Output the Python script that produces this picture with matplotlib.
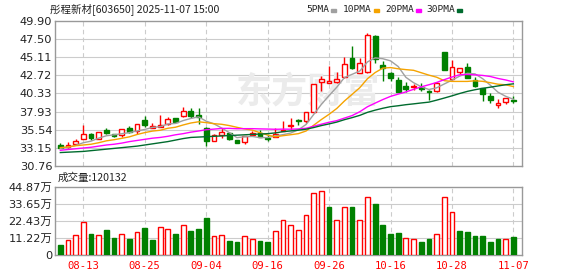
import matplotlib
matplotlib.use("Agg")
import matplotlib.pyplot as plt
import numpy as np

fechas = ["08-08", "08-11", "08-12", "08-13", "08-14", "08-15", "08-18", "08-19", "08-20", "08-21",
          "08-22", "08-25", "08-26", "08-27", "08-28", "08-29", "09-01", "09-02", "09-03", "09-04",
          "09-05", "09-08", "09-09", "09-10", "09-11", "09-12", "09-15", "09-16", "09-17", "09-18",
          "09-19", "09-22", "09-23", "09-24", "09-25", "09-26", "09-29", "09-30", "10-09", "10-10",
          "10-13", "10-14", "10-15", "10-16", "10-17", "10-20", "10-21", "10-22", "10-23", "10-24",
          "10-27", "10-28", "10-29", "10-30", "10-31", "11-03", "11-04", "11-05", "11-06", "11-07"]

apertura = [33.50, 33.23, 33.67, 34.33, 34.91, 34.33, 35.48, 34.99, 34.77, 35.70,
            35.35, 36.80, 35.79, 35.92, 36.23, 37.03, 37.38, 38.00, 37.47, 35.70,
            34.07, 34.86, 35.04, 34.16, 33.89, 34.82, 35.04, 34.47, 34.51, 35.39,
            36.01, 36.76, 36.63, 37.82, 41.79, 41.74, 41.87, 42.45, 45.05, 43.07,
            43.11, 47.92, 44.08, 42.98, 42.10, 41.30, 41.13, 41.13, 40.64, 40.64,
            45.76, 42.23, 43.20, 43.77, 42.10, 41.04, 39.98, 38.83, 39.14, 39.45]
maximo = [33.72, 33.94, 34.25, 36.14, 35.04, 35.22, 35.70, 35.00, 35.66, 36.01,
          36.25, 37.38, 36.36, 37.47, 37.20, 37.10, 38.48, 38.35, 38.35, 35.83,
          34.95, 35.70, 35.17, 34.18, 34.70, 35.30, 35.48, 34.82, 35.70, 36.67,
          37.10, 36.89, 37.83, 41.58, 42.62, 43.95, 43.20, 45.18, 46.59, 45.05,
          48.27, 48.05, 44.61, 43.20, 42.45, 41.79, 41.57, 41.65, 40.77, 41.87,
          45.80, 44.74, 43.66, 44.39, 42.45, 41.06, 40.33, 39.54, 39.72, 39.98]
minimo = [33.06, 33.10, 33.54, 34.25, 34.12, 34.29, 34.99, 34.51, 34.51, 35.04,
          34.95, 35.92, 35.70, 35.90, 36.20, 36.50, 37.20, 37.03, 36.27, 33.41,
          34.05, 34.38, 34.16, 33.79, 33.58, 34.69, 34.50, 34.03, 34.50, 35.35,
          35.48, 36.10, 36.36, 37.69, 40.68, 41.65, 41.65, 42.32, 43.55, 42.98,
          42.98, 44.30, 41.96, 42.00, 40.50, 40.46, 40.77, 40.64, 39.45, 40.55,
          43.40, 42.10, 42.89, 42.38, 41.21, 39.32, 39.10, 38.35, 38.97, 39.01]
cierre = [33.14, 33.54, 34.07, 34.91, 34.38, 35.17, 35.08, 34.73, 35.57, 35.17,
          36.23, 36.10, 36.01, 36.10, 36.94, 36.58, 38.04, 37.38, 37.16, 34.07,
          34.86, 35.26, 34.33, 33.81, 34.69, 35.08, 34.51, 34.33, 34.91, 35.52,
          36.14, 36.67, 37.82, 41.57, 42.18, 41.96, 42.18, 44.21, 43.73, 44.30,
          48.05, 44.83, 43.64, 42.32, 40.55, 40.91, 41.30, 40.95, 40.51, 41.65,
          43.46, 43.77, 43.64, 42.40, 41.30, 40.24, 39.45, 39.01, 39.71, 39.32]

# volumen en 万
volumen = [6.6, 9.9, 13.0, 21.8, 13.9, 13.0, 16.5, 11.2, 13.6, 10.6,
           15.2, 17.8, 10.1, 18.3, 16.9, 13.9, 19.6, 15.8, 17.2, 24.4,
           12.3, 13.0, 9.2, 8.6, 12.3, 10.3, 9.2, 8.6, 15.6, 22.9,
           19.6, 16.3, 26.4, 40.7, 42.0, 31.7, 23.1, 31.5, 31.5, 23.1,
           38.1, 33.7, 19.8, 13.9, 14.7, 11.0, 10.3, 8.8, 10.6, 13.9,
           38.3, 28.2, 15.8, 15.2, 12.5, 12.5, 8.8, 10.6, 10.6, 12.01]

ma5 = [33.06, 33.20, 33.45, 33.80, 34.01, 34.41, 34.72, 34.85, 34.99, 35.14,
       35.36, 35.56, 35.82, 35.92, 36.28, 36.35, 36.73, 37.01, 37.22, 36.65,
       36.30, 35.75, 35.14, 34.47, 34.59, 34.63, 34.48, 34.48, 34.70, 34.87,
       35.08, 35.51, 36.21, 37.54, 38.88, 40.04, 41.14, 42.42, 42.85, 43.28,
       44.49, 45.02, 44.91, 44.63, 43.88, 42.45, 41.74, 41.21, 40.84, 41.06,
       41.57, 42.07, 42.61, 42.98, 42.91, 42.27, 41.41, 40.48, 39.94, 39.55]
ma10 = [33.15, 33.25, 33.40, 33.50, 33.60, 33.80, 34.05, 34.20, 34.38, 34.58,
        34.89, 35.14, 35.34, 35.45, 35.71, 35.85, 36.15, 36.41, 36.57, 36.46,
        36.32, 36.24, 36.07, 35.84, 35.62, 35.47, 35.12, 34.81, 34.59, 34.73,
        34.86, 35.00, 35.35, 36.12, 36.87, 37.56, 38.33, 39.32, 40.20, 41.08,
        42.27, 43.08, 43.67, 43.74, 43.58, 43.47, 43.38, 43.06, 42.74, 42.47,
        42.01, 41.91, 41.91, 41.91, 41.99, 41.92, 41.74, 41.54, 41.46, 41.23]
ma20 = [32.80, 32.90, 33.00, 33.10, 33.20, 33.35, 33.50, 33.60, 33.75, 33.95,
        34.10, 34.25, 34.40, 34.50, 34.65, 34.85, 35.00, 35.20, 35.35, 35.52,
        35.60, 35.69, 35.70, 35.65, 35.66, 35.66, 35.63, 35.61, 35.58, 35.60,
        35.59, 35.62, 35.71, 35.98, 36.25, 36.51, 36.72, 37.06, 37.39, 37.90,
        38.56, 39.04, 39.51, 39.93, 40.23, 40.52, 40.86, 41.19, 41.47, 41.77,
        42.14, 42.49, 42.79, 42.83, 42.78, 42.70, 42.56, 42.30, 42.10, 41.85]
ma30 = [32.50, 32.55, 32.60, 32.65, 32.75, 32.85, 32.95, 33.05, 33.15, 33.25,
        33.35, 33.50, 33.65, 33.80, 33.95, 34.15, 34.35, 34.50, 34.55, 34.60,
        34.65, 34.70, 34.75, 34.80, 34.85, 34.90, 34.95, 35.00, 35.10, 35.26,
        35.36, 35.46, 35.59, 35.81, 36.07, 36.29, 36.53, 36.85, 37.12, 37.42,
        37.82, 38.11, 38.36, 38.57, 38.69, 38.83, 38.94, 39.06, 39.17, 39.43,
        39.71, 40.00, 40.31, 40.59, 40.81, 40.99, 41.15, 41.31, 41.47, 41.59]

precio_ticks = [30.76, 33.15, 35.54, 37.93, 40.33, 42.72, 45.11, 47.50, 49.90]
vol_ticks = [0, 11.22, 22.43, 33.65, 44.87]
vol_etiquetas = ["0", "11.22万", "22.43万", "33.65万", "44.87万"]
fechas_eje = ["08-13", "08-25", "09-04", "09-16", "09-26", "10-16", "10-28", "11-07"]

ROJO = "#ff0000"
VERDE = "#008000"
GRIS = "#999999"
CJK = ["Noto Sans CJK SC", "DejaVu Sans"]

n = len(cierre)
x = np.arange(n)
o = np.array(apertura)
c = np.array(cierre)
sube = c >= o
sube_vol = [cierre[0] >= apertura[0]] + [cierre[i] >= cierre[i - 1] for i in range(1, n)]
pos_fechas = [fechas.index(f) for f in fechas_eje]

fig = plt.figure(figsize=(5.78, 2.76), dpi=100)
ax = fig.add_axes([0.0952, 0.3996, 0.8080, 0.5243])
axv = fig.add_axes([0.0952, 0.0761, 0.8080, 0.2464])

for a in (ax, axv):
    for s in a.spines.values():
        s.set_color(GRIS)
        s.set_linewidth(1)
    a.set_xlim(-0.69, 60.13)
    a.tick_params(length=0, labelsize=8, colors="#222222")
    for p in pos_fechas:
        a.axvline(p, color="#cccccc", lw=0.8, ls=(0, (4, 3)), zorder=0)

for t in precio_ticks[1:-1]:
    ax.axhline(t, color="#cccccc", lw=0.8, zorder=0)
for t in vol_ticks[1:-1]:
    axv.axhline(t, color="#cccccc", lw=0.8, zorder=0)

# marca de agua
ax.text(0.533, 0.667, "东方财富", transform=fig.transFigure, fontsize=26, fontweight="bold",
        color="#ebebeb", ha="center", va="center", family=CJK, zorder=0)

ancho = 0.62
for i in range(n):
    col = ROJO if sube[i] else VERDE
    ax.vlines(x[i], minimo[i], maximo[i], color=col, lw=1, zorder=2)
    abajo = min(apertura[i], cierre[i])
    alto = max(abs(cierre[i] - apertura[i]), 0.04)
    if sube[i]:
        ax.bar(x[i], alto, ancho, bottom=abajo, facecolor="white", edgecolor=ROJO, lw=1, zorder=3)
    else:
        ax.bar(x[i], alto, ancho, bottom=abajo, facecolor=VERDE, edgecolor=VERDE, lw=1, zorder=3)

ax.plot(x, ma5, color="#a0a0a0", lw=1, zorder=4)
ax.plot(x, ma10, color="#f5a300", lw=1, zorder=4)
ax.plot(x, ma20, color="#ff00ff", lw=1, zorder=4)
ax.plot(x, ma30, color="#006b2e", lw=1, zorder=4)

ax.set_ylim(30.76, 49.90)
ax.set_yticks(precio_ticks)
ax.set_yticklabels(["%.2f" % t for t in precio_ticks], fontsize=8.2)
ax.tick_params(axis="y", pad=2)
ax.set_xticks([])

for i in range(n):
    if sube_vol[i]:
        axv.bar(x[i], volumen[i], ancho, facecolor="white", edgecolor=ROJO, lw=1, zorder=3)
    else:
        axv.bar(x[i], volumen[i], ancho, facecolor=VERDE, edgecolor=VERDE, lw=1, zorder=3)

axv.set_ylim(0, 44.87)
axv.set_yticks(vol_ticks)
axv.set_yticklabels(vol_etiquetas, family=["DejaVu Sans", "Noto Sans CJK SC"], fontsize=8.2)
axv.tick_params(axis="y", pad=2)
axv.set_xticks(pos_fechas)
axv.set_xticklabels(fechas_eje, family="DejaVu Sans Mono", fontsize=7.6, color=ROJO)
axv.tick_params(axis="x", pad=4, colors=ROJO)

fig.text(0.087, 0.967, "彤程新材[603650] 2025-11-07 15:00", family=CJK, fontsize=7.6,
         color="#222222", ha="left", va="center")
fig.text(0.100, 0.355, "成交量:120132", family=CJK, fontsize=7.6, color="#222222",
         ha="left", va="center")

leyenda = [("5PMA", "#a0a0a0", 306), ("10PMA", "#f5a300", 343),
           ("20PMA", "#ff00ff", 385), ("30PMA", "#006b2e", 426)]
for txt, col, px in leyenda:
    fig.text(px / 578, 0.967, txt, family="DejaVu Sans Mono", fontsize=6.8, color="#222222",
             ha="left", va="center")
    fig.patches.append(plt.Rectangle((px / 578 + len(txt) * 5.7 / 578 + 2 / 578, 0.957),
                                     5 / 578, 3 / 276, transform=fig.transFigure,
                                     color=col, figure=fig))

fig.savefig("out.png", dpi=100)
